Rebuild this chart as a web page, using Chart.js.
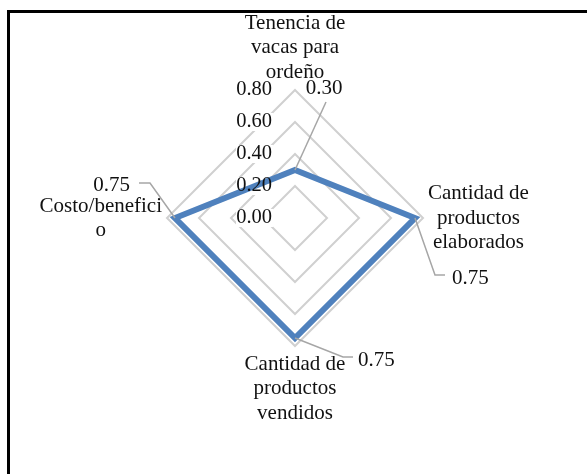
<!DOCTYPE html>
<html>
<head>
<meta charset="utf-8">
<script src="https://cdn.jsdelivr.net/npm/chart.js@4"></script>
<style>
html,body{margin:0;padding:0;background:#fff;}
#wrap{position:relative;width:587px;height:474px;overflow:hidden;}
#frame{position:absolute;left:7px;top:10px;right:-10px;bottom:-10px;border-top:3px solid #000;border-left:3px solid #000;}
canvas{position:absolute;left:0;top:0;}
</style>
</head>
<body>
<div id="wrap"><div id="frame"></div><canvas id="c" width="587" height="474"></canvas></div>
<script>
// categories (multi-line as in the original), values, axis ticks
const categories=[['Tenencia de','vacas para','ordeño'],['Cantidad de','productos','elaborados'],['Cantidad de','productos','vendidos'],['Costo/benefici','o']];
const values=[0.30,0.75,0.75,0.75];
const tickMin=0, tickMax=0.8, tickStep=0.2;

const BLUE='#4F81BD', GRID='#D0D0D0', LEAD='#A6A6A6';
const FONT='"Liberation Serif","Times New Roman",serif';
const LH=24.5;

// leader line bends for the value labels: [bend from point, end, text anchor, align]
const leaders=[
  {pts:[[31,-68]],txt:[29,-82],align:'center'},
  {pts:[[20,57],[30,57]],txt:[37,60],align:'left'},
  {pts:[[48,19],[58,19]],txt:[63,22],align:'left'},
  {pts:[[-25,-35],[-36,-35]],txt:[-45,-33],align:'right'}
];

const labelPlugin={
  id:'labels',
  beforeDatasetsDraw(chart){
    const r=chart.scales.r, ctx=chart.ctx;
    ctx.save();
    ctx.font='20px '+FONT;
    r.ticks.forEach(t=>{
      const y=r.yCenter-r.getDistanceFromCenterForValue(t.value);
      const w=ctx.measureText(t.value.toFixed(2)).width;
      ctx.fillStyle='#fff';
      ctx.fillRect(r.xCenter-23-w-1,y-9,w+2,18);
    });
    ctx.restore();
  },
  afterDatasetsDraw(chart){
    const r=chart.scales.r, ctx=chart.ctx;
    ctx.save();
    ctx.fillStyle='#111';
    ctx.textBaseline='middle';
    // axis ticks, left of the vertical axis
    ctx.font='20.5px '+FONT;
    ctx.textAlign='right';
    r.ticks.forEach(t=>{
      const y=r.yCenter-r.getDistanceFromCenterForValue(t.value);
      ctx.fillText(t.value.toFixed(2),r.xCenter-23,y);
    });
    // category labels
    ctx.font='21px '+FONT;
    ctx.textAlign='center';
    const outer=r.getDistanceFromCenterForValue(tickMax);
    categories.forEach((lines,i)=>{
      const o=r.getPointPosition(i,outer);
      const dx=o.x-r.xCenter, dy=o.y-r.yCenter;
      const maxW=Math.max(...lines.map(s=>ctx.measureText(s).width));
      let cx=o.x, y0;
      if(Math.abs(dx)<1){
        y0= dy<0 ? o.y-18-(lines.length-1)*LH : o.y+18;
      } else {
        cx= dx>0 ? o.x+5+maxW/2 : o.x-5-maxW/2;
        y0=o.y-(lines.length-1)*LH/2+ (dx<0?0.5:0);
      }
      lines.forEach((s,k)=>ctx.fillText(s,cx,y0+k*LH));
    });
    // value labels with leader lines
    const meta=chart.getDatasetMeta(0);
    meta.data.forEach((pt,i)=>{
      const L=leaders[i];
      ctx.strokeStyle=LEAD; ctx.lineWidth=1.5;
      ctx.beginPath(); ctx.moveTo(pt.x,pt.y);
      L.pts.forEach(p=>ctx.lineTo(pt.x+p[0],pt.y+p[1]));
      ctx.stroke();
      ctx.textAlign=L.align;
      ctx.fillText(values[i].toFixed(2),pt.x+L.txt[0],pt.y+L.txt[1]);
    });
    ctx.restore();
  }
};

new Chart(document.getElementById('c'),{
  type:'radar',
  data:{
    labels:categories.map(c=>c.join(' ')),
    datasets:[{data:values,borderColor:BLUE,borderWidth:6,fill:false,pointRadius:0,borderJoinStyle:'miter',tension:0}]
  },
  options:{
    responsive:false,animation:false,
    layout:{padding:{left:167,right:164,top:90,bottom:128}},
    plugins:{legend:{display:false},tooltip:{enabled:false}},
    scales:{r:{
      min:tickMin,max:tickMax,
      ticks:{display:false,stepSize:tickStep},
      pointLabels:{display:false},
      angleLines:{display:false},
      grid:{color:GRID,lineWidth:2}
    }}
  },
  plugins:[labelPlugin]
});
</script>
</body>
</html>
